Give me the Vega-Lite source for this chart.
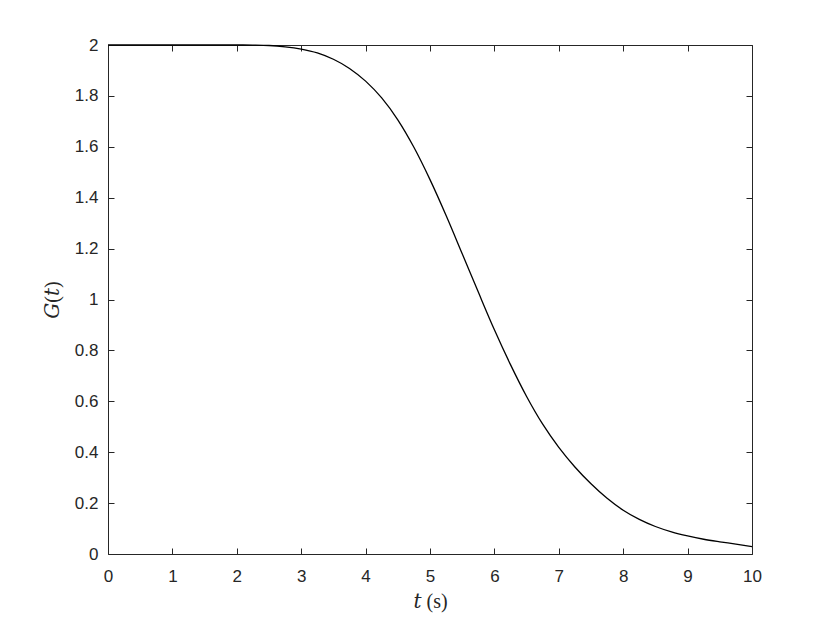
{
  "$schema": "https://vega.github.io/schema/vega-lite/v6.json",
  "background": "white",
  "autosize": {"type": "none"},
  "padding": {"left": 108, "top": 45, "right": 78, "bottom": 69},
  "width": 644,
  "height": 509,
  "data": {
    "values": [
      {"t": 0, "G": 2.0},
      {"t": 0.5, "G": 2.0},
      {"t": 1, "G": 2.0},
      {"t": 1.5, "G": 2.0},
      {"t": 2, "G": 2.0},
      {"t": 2.25, "G": 1.9995},
      {"t": 2.5, "G": 1.998},
      {"t": 2.75, "G": 1.993},
      {"t": 3, "G": 1.984},
      {"t": 3.25, "G": 1.969},
      {"t": 3.5, "G": 1.944},
      {"t": 3.75, "G": 1.908},
      {"t": 4, "G": 1.858},
      {"t": 4.25, "G": 1.792},
      {"t": 4.5, "G": 1.706},
      {"t": 4.75, "G": 1.598},
      {"t": 5, "G": 1.471},
      {"t": 5.25, "G": 1.33},
      {"t": 5.5, "G": 1.18},
      {"t": 5.75, "G": 1.029},
      {"t": 6, "G": 0.881},
      {"t": 6.25, "G": 0.744},
      {"t": 6.5, "G": 0.619},
      {"t": 6.75, "G": 0.51},
      {"t": 7, "G": 0.419},
      {"t": 7.25, "G": 0.342},
      {"t": 7.5, "G": 0.276},
      {"t": 7.75, "G": 0.219},
      {"t": 8, "G": 0.172},
      {"t": 8.25, "G": 0.136},
      {"t": 8.5, "G": 0.108},
      {"t": 8.75, "G": 0.087},
      {"t": 9, "G": 0.071},
      {"t": 9.25, "G": 0.058},
      {"t": 9.5, "G": 0.048},
      {"t": 9.75, "G": 0.039},
      {"t": 10, "G": 0.029}
    ]
  },
  "config": {
    "view": {"stroke": null},
    "axis": {
      "grid": false,
      "domainColor": "#262626",
      "domainWidth": 1,
      "tickColor": "#262626",
      "tickWidth": 1,
      "tickSize": -6,
      "labelFlush": false,
      "labelFont": "Liberation Sans",
      "labelFontSize": 17,
      "labelColor": "#262626",
      "titleFont": "Liberation Serif, DejaVu Serif, serif",
      "titleFontSize": 20,
      "titleFontWeight": "normal",
      "titleColor": "#262626"
    }
  },
  "layer": [
    {
      "mark": {"type": "line", "color": "#000000", "strokeWidth": 1.3, "interpolate": "monotone"},
      "encoding": {
        "x": {
          "field": "t",
          "type": "quantitative",
          "scale": {"domain": [0, 10], "nice": false, "zero": false},
          "axis": {
            "orient": "bottom",
            "title": "𝑡 (s)",
            "values": [0, 1, 2, 3, 4, 5, 6, 7, 8, 9, 10],
            "labelPadding": 20,
            "titlePadding": 7
          }
        },
        "y": {
          "field": "G",
          "type": "quantitative",
          "scale": {"domain": [0, 2], "nice": false},
          "axis": {
            "orient": "left",
            "title": "𝐺(𝑡)",
            "values": [0, 0.2, 0.4, 0.6, 0.8, 1, 1.2, 1.4, 1.6, 1.8, 2],
            "format": "~g",
            "labelPadding": 16,
            "titlePadding": 12
          }
        }
      }
    },
    {
      "mark": {"type": "line", "strokeOpacity": 0},
      "encoding": {
        "x": {
          "field": "t",
          "type": "quantitative",
          "axis": {"orient": "top", "title": null, "labels": false, "values": [0, 1, 2, 3, 4, 5, 6, 7, 8, 9, 10]}
        },
        "y": {
          "field": "G",
          "type": "quantitative",
          "axis": {"orient": "right", "title": null, "labels": false, "values": [0, 0.2, 0.4, 0.6, 0.8, 1, 1.2, 1.4, 1.6, 1.8, 2]}
        }
      }
    }
  ],
  "resolve": {"axis": {"x": "independent", "y": "independent"}}
}
